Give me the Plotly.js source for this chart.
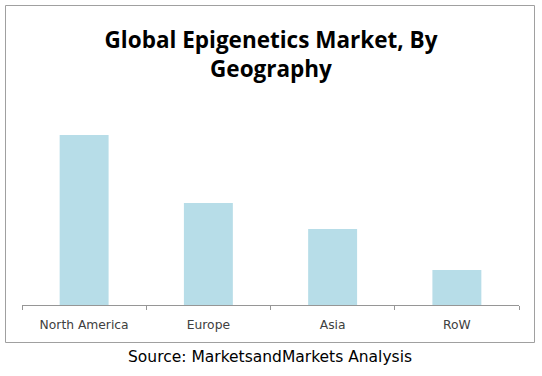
<!DOCTYPE html>
<html>
<head>
<meta charset="utf-8">
<script src="https://cdn.plot.ly/plotly-3.0.1.min.js"></script>
<style>html,body{margin:0;padding:0;background:#fff;}#chart{width:542px;height:376px;}</style>
</head>
<body>
<div id="chart"></div>
<script>
var categories = ["North America", "Europe", "Asia", "RoW"];
var marketValues = [170, 102, 76, 35];

var L = 22, R = 23, T = 105, B = 71, W = 542, H = 376;
var pw = W - L - R, ph = H - T - B;
function px(x) { return (x - L) / pw; }
function py(y) { return (H - B - y) / ph; }

var trace = {
  type: "bar",
  x: categories,
  y: marketValues,
  marker: { color: "#b7dde8", line: { width: 0 } },
  hoverinfo: "x+y"
};

var layout = {
  width: W, height: H,
  margin: { l: L, r: R, t: T, b: B, pad: 0 },
  paper_bgcolor: "#ffffff",
  plot_bgcolor: "#ffffff",
  showlegend: false,
  bargap: 0.606,
  title: {
    text: "<b>Global Epigenetics Market, By<br>Geography</b>",
    font: { family: "Open Sans, Noto Sans, sans-serif", size: 22.5, color: "#000000" },
    x: 0.5, xanchor: "center",
    y: 1 - 48 / H, yanchor: "middle"
  },
  xaxis: {
    type: "category",
    showline: true, linecolor: "#969696", linewidth: 1,
    ticks: "outside", tickson: "boundaries", ticklen: 4, tickcolor: "#969696", tickwidth: 1,
    ticklabelstandoff: 8,
    showgrid: false, zeroline: false,
    tickfont: { family: "DejaVu Sans, Verdana, sans-serif", size: 12.3, color: "#404040" },
    fixedrange: true
  },
  yaxis: {
    range: [0, 200],
    visible: false, showgrid: false, zeroline: false,
    fixedrange: true
  },
  shapes: [{
    type: "rect", xref: "paper", yref: "paper",
    x0: px(5.5), x1: px(534.5), y0: py(342.5), y1: py(5.5),
    line: { color: "#a0a0a0", width: 1 },
    fillcolor: "rgba(0,0,0,0)",
    layer: "below"
  }],
  annotations: [{
    text: "Source: MarketsandMarkets Analysis",
    xref: "paper", yref: "paper",
    x: px(270), y: py(357),
    xanchor: "center", yanchor: "middle",
    showarrow: false,
    font: { family: "DejaVu Sans, Verdana, sans-serif", size: 15.5, color: "#000000" }
  }]
};

Plotly.newPlot("chart", [trace], layout, { displayModeBar: false, staticPlot: true });
</script>
</body>
</html>
